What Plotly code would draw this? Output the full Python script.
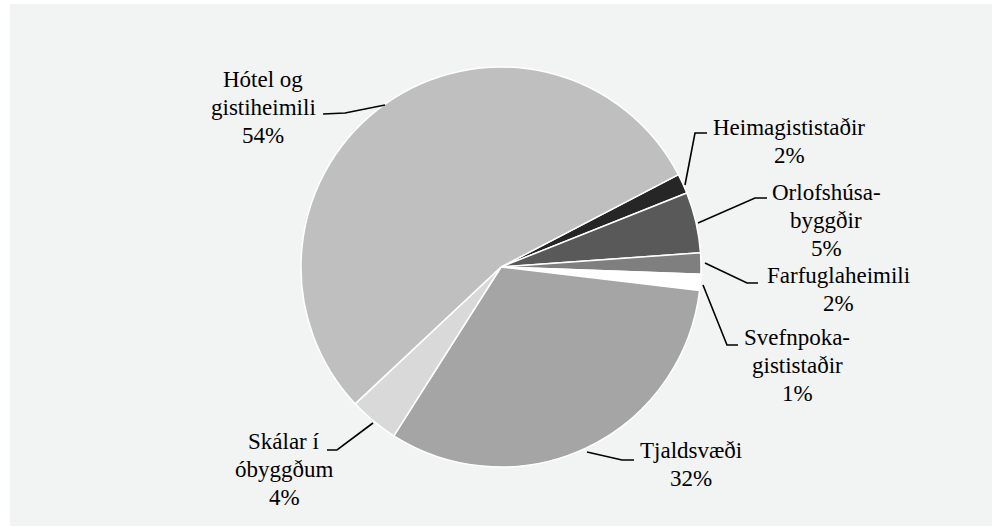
import plotly.graph_objects as go

# ---- data ----
categories = ["Heimagististaðir", "Orlofshúsabyggðir", "Farfuglaheimili",
              "Svefnpokagististaðir", "Tjaldsvæði", "Skálar í óbyggðum",
              "Hótel og gistiheimili"]
label_lines = [["Heimagististaðir"], ["Orlofshúsa-", "byggðir"], ["Farfuglaheimili"],
               ["Svefnpoka-", "gististaðir"], ["Tjaldsvæði"], ["Skálar í", "óbyggðum"],
               ["Hótel og", "gistiheimili"]]
values = [1.6, 4.9, 1.7, 1.3, 32.1, 4.0, 54.3]
colors = ["#262626", "#595959", "#7f7f7f", "#ffffff", "#a5a5a5", "#d9d9d9", "#bfbfbf"]

W, H = 996, 530
FONT = "Liberation Serif"
FS = 23
LINE = 28


def px(x):
    return x / W


def py(y):
    return 1 - y / H


total = sum(values)
pct = [f"{round(100 * v / total)}%" for v in values]

fig = go.Figure(go.Pie(
    labels=categories, values=values, sort=False, direction="clockwise",
    rotation=62.5, textinfo="none", hoverinfo="label+percent",
    marker=dict(colors=colors, line=dict(color="#ffffff", width=1.5)),
    domain=dict(x=[px(301), px(701)], y=[py(467), py(67)]),
    showlegend=False,
))

# label anchor: (x centre, baseline of first line) in px; leader-line paths
label_pos = [(789, 135), (826, 200), (838, 283), (797, 345), (691, 458), (284, 449), (263, 87)]
leaders = [
    [(707, 133), (695, 133), (685, 185)],
    [(767, 198), (755, 198), (698, 223)],
    [(758, 283), (747, 283), (705, 263)],
    [(738, 345), (727, 345), (703, 285)],
    [(634, 460), (622, 460), (587, 452)],
    [(327, 450), (337, 450), (373, 423)],
    [(323, 114), (345, 113), (385, 105)],
]

annotations = []
for lines, p, (x, y) in zip(label_lines, pct, label_pos):
    for i, t in enumerate(lines + [p]):
        base = y + i * LINE
        annotations.append(dict(
            x=px(x), y=py(base - 0.34 * FS), xref="paper", yref="paper", showarrow=False,
            text=t, align="center", xanchor="center", yanchor="middle",
            font=dict(family=FONT, size=FS, color="#000000"),
        ))

shapes = [dict(type="rect", xref="paper", yref="paper",
               x0=px(10), x1=px(992), y0=py(526), y1=py(4),
               fillcolor="#f2f3f3", line=dict(width=0), layer="below")]
for pts in leaders:
    path = "M " + " L ".join(f"{px(x)},{py(y)}" for x, y in pts)
    shapes.append(dict(type="path", xref="paper", yref="paper", path=path,
                       line=dict(color="#000000", width=1.6), layer="above"))

fig.update_layout(
    width=W, height=H, margin=dict(l=0, r=0, t=0, b=0),
    font=dict(family=FONT, size=FS, color="#000000"),
    paper_bgcolor="#ffffff", plot_bgcolor="#ffffff",
    annotations=annotations, shapes=shapes,
)

fig.write_html("out.html", config={"displayModeBar": False},
               post_script="document.body.style.margin='0';")
